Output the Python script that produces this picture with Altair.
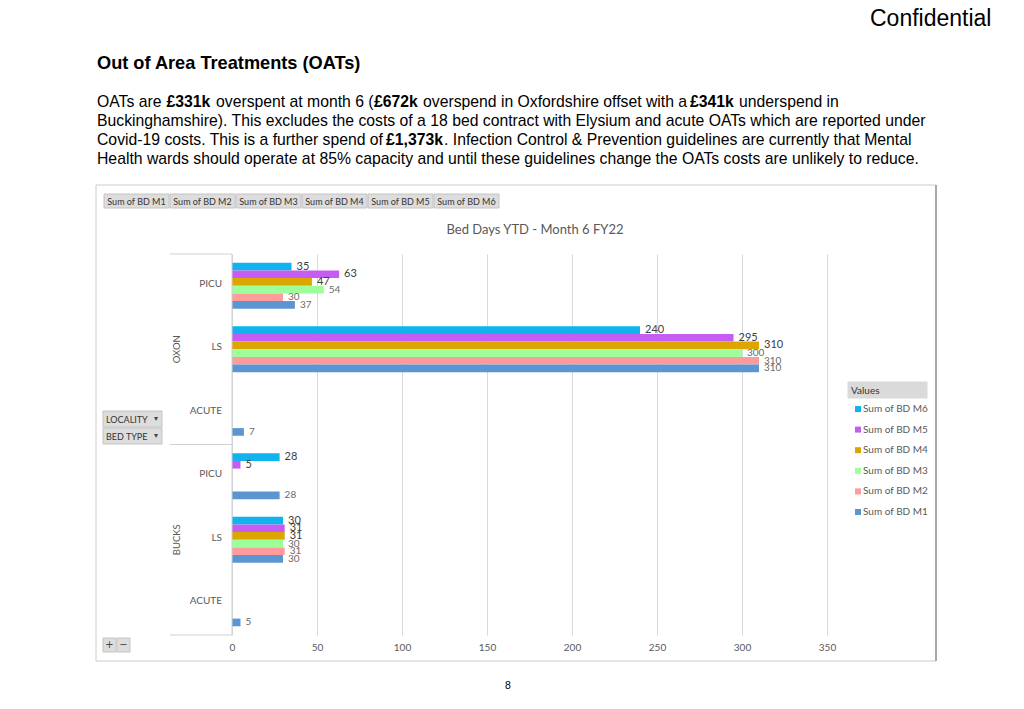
import altair as alt
import pandas as pd

# ---------------- data ----------------
localities = ["OXON", "BUCKS"]
bed_types = ["PICU", "LS", "ACUTE"]
series_names = ["Sum of BD M6", "Sum of BD M5", "Sum of BD M4",
                "Sum of BD M3", "Sum of BD M2", "Sum of BD M1"]
# order: OXON PICU, OXON LS, OXON ACUTE, BUCKS PICU, BUCKS LS, BUCKS ACUTE
bd_m6 = [35, 240, None, 28, 30, None]
bd_m5 = [63, 295, None, 5, 31, None]
bd_m4 = [47, 310, None, None, 31, None]
bd_m3 = [54, 300, None, None, 30, None]
bd_m2 = [30, 310, None, None, 31, None]
bd_m1 = [37, 310, 7, 28, 30, 5]
x_ticks = [0, 50, 100, 150, 200, 250, 300, 350]
button_labels = ["Sum of BD M1", "Sum of BD M2", "Sum of BD M3",
                 "Sum of BD M4", "Sum of BD M5", "Sum of BD M6"]
series_colors = ["#0FB4EE", "#C65DF2", "#DDA500", "#9CFF9C", "#FF9B9B", "#5B96D3"]

chart_title = "Bed Days YTD - Month 6 FY22"
doc_title = "Out of Area Treatments (OATs)"
para_line2 = ("Buckinghamshire). This excludes the costs of a 18 bed contract with Elysium "
              "and acute OATs which are reported under")
para_line4 = ("Health wards should operate at 85% capacity and until these guidelines change "
              "the OATs costs are unlikely to reduce.")

# ---------------- tables ----------------
cats = [f"{l}|{b}" for l in localities for b in bed_types]
series_vals = [bd_m6, bd_m5, bd_m4, bd_m3, bd_m2, bd_m1]
rows = []
for s, vals in zip(series_names, series_vals):
    for c, v in zip(cats, vals):
        if v is not None:
            rows.append({"cat": c, "series": s, "value": v})
df = pd.DataFrame(rows)
df_cat = pd.DataFrame([{"cat": f"{l}|{b}", "bed": b} for l in localities for b in bed_types])
df_loc = pd.DataFrame([{"cat": f"{l}|LS", "loc": l} for l in localities])

# ---------------- geometry ----------------
W, H = 595, 381
OX, OY = 232, 254          # page position of plot origin


def px(x):
    return x - OX


def py(y):
    return y - OY


one = pd.DataFrame({"t": [""]})
CH_FONT = "Lato"
DOC_FONT = "Liberation Sans"

y_enc = alt.Y("cat:N", scale=alt.Scale(domain=cats, paddingInner=0.275, paddingOuter=0.1375), axis=None)
x_scale = alt.Scale(domain=[0, 350], nice=False)
yoff = alt.YOffset("series:N", scale=alt.Scale(domain=series_names, paddingInner=0, paddingOuter=0))


def text_layer(t, x, y, size, color="#000000", weight="normal", font=DOC_FONT,
               align="left", baseline="alphabetic", angle=0):
    props = dict(fontSize=size, color=color, fontWeight=weight, font=font,
                 align=align, baseline=baseline)
    if angle:
        props["angle"] = angle
    return alt.Chart(pd.DataFrame({"t": [t]})).mark_text(**props).encode(
        text="t:N", x=alt.value(px(x)), y=alt.value(py(y)))


def rect_layer(x1, x2, y1, y2, fill="#DDDDDD", stroke="#C4C4C4", fill_opacity=1.0, sw=1):
    return alt.Chart(one).mark_rect(fill=fill, fillOpacity=fill_opacity, stroke=stroke,
                                    strokeWidth=sw).encode(
        x=alt.value(px(x1)), x2=alt.value(px(x2)), y=alt.value(py(y1)), y2=alt.value(py(y2)))


def hrule(x1, x2, y, color="#D0D0D0", sw=1):
    return alt.Chart(one).mark_rule(color=color, strokeWidth=sw).encode(
        x=alt.value(px(x1)), x2=alt.value(px(x2)), y=alt.value(py(y)))


def vrule(x, y1, y2, color="#D0D0D0", sw=1):
    return alt.Chart(one).mark_rule(color=color, strokeWidth=sw).encode(
        x=alt.value(px(x)), y=alt.value(py(y1)), y2=alt.value(py(y2)))


layers = []

# chart frame
layers.append(rect_layer(96, 936, 185, 661, fill="#FFFFFF", stroke="#CCCCCC", fill_opacity=0))
layers.append(vrule(936, 185, 661, color="#A8A8A8", sw=2))

# bars
bars = alt.Chart(df).mark_bar().encode(
    x=alt.X("value:Q", scale=x_scale,
            axis=alt.Axis(values=x_ticks, grid=True, gridColor="#D9D9D9", domain=False, ticks=False,
                          labelFont=CH_FONT, labelFontSize=10, labelColor="#595959", labelFlush=False,
                          labelPadding=7, title=None, format="d")),
    y=y_enc,
    yOffset=yoff,
    color=alt.Color("series:N", scale=alt.Scale(domain=series_names, range=series_colors),
                    legend=alt.Legend(title=None, orient="none", legendX=621, legendY=150,
                                      symbolType="square", symbolSize=36, symbolStrokeWidth=0,
                                      labelFont=CH_FONT, labelFontSize=10, labelColor="#595959",
                                      rowPadding=10.6, labelOffset=0)),
)
layers.append(bars)

# data labels
lab_dark = alt.Chart(df).transform_filter(
    alt.FieldOneOfPredicate(field="series", oneOf=series_names[:3])
).mark_text(align="left", baseline="middle", dx=5, font=CH_FONT, fontSize=11, color="#404040").encode(
    x=alt.X("value:Q", scale=x_scale), y=y_enc, yOffset=yoff, text="value:Q")
lab_light = alt.Chart(df).transform_filter(
    alt.FieldOneOfPredicate(field="series", oneOf=series_names[3:])
).mark_text(align="left", baseline="middle", dx=5, font=CH_FONT, fontSize=10, color="#6A6A6A").encode(
    x=alt.X("value:Q", scale=x_scale), y=y_enc, yOffset=yoff, text="value:Q")
layers += [lab_dark, lab_light]

# category axis structure
layers.append(vrule(232, 254, 635))
layers.append(hrule(170, 232, 254))
layers.append(hrule(170, 232, 254 + H / 2))
layers.append(hrule(170, 232, 635))
layers.append(alt.Chart(df_cat).mark_text(align="right", baseline="middle", dy=-2, font=CH_FONT,
                                          fontSize=10, color="#595959").encode(
    y=y_enc, x=alt.value(px(222)), text="bed:N"))
layers.append(alt.Chart(df_loc).mark_text(align="center", baseline="middle", angle=270, font=CH_FONT,
                                          fontSize=9.5, color="#595959").encode(
    y=y_enc, x=alt.value(px(177)), text="loc:N"))

# chart title
layers.append(text_layer(chart_title, 535, 230, 13, color="#595959", font=CH_FONT,
                         align="center", baseline="middle"))

# field buttons
for i, lab in enumerate(button_labels):
    x1 = 104 + 66 * i
    layers.append(rect_layer(x1, x1 + 65, 194, 208))
    layers.append(text_layer(lab, x1 + 32.5, 201.5, 9, color="#333333", font=CH_FONT,
                             align="center", baseline="middle"))

# locality / bed type buttons
for lab, y1 in [("LOCALITY", 411), ("BED TYPE", 428)]:
    layers.append(rect_layer(103, 162, y1, y1 + 16))
    layers.append(text_layer(lab, 106, y1 + 8.5, 9, color="#333333", font=CH_FONT, baseline="middle"))
    layers.append(text_layer("▾", 156, y1 + 8, 8, color="#444444", font="DejaVu Sans",
                             align="center", baseline="middle"))

# +/- buttons
layers.append(rect_layer(103, 116, 638, 652))
layers.append(rect_layer(117, 130, 638, 652))
layers.append(text_layer("+", 109.5, 645, 10, color="#444444", font="DejaVu Sans", align="center", baseline="middle"))
layers.append(text_layer("−", 123.5, 645, 10, color="#444444", font="DejaVu Sans", align="center", baseline="middle"))

# legend header
layers.append(rect_layer(848, 927, 382, 398, fill="#DADADA", stroke="#DADADA"))
layers.append(text_layer("Values", 851, 390.5, 10, color="#333333", font=CH_FONT, baseline="middle"))

# document text
layers.append(text_layer("Confidential", 870, 25.5, 23))
layers.append(text_layer(doc_title, 97, 68.5, 18.2, weight="bold"))
FS = 15.75
line1 = [("OATs are", 97, "normal"), ("£331k", 166.5, "bold"), ("overspent at month 6 (", 216, "normal"),
         ("£672k", 374, "bold"), ("overspend in Oxfordshire offset with a", 423, "normal"),
         ("£341k", 690, "bold"), ("underspend in", 739, "normal")]
for t, x, w in line1:
    layers.append(text_layer(t, x, 106.5, FS, weight=w))
layers.append(text_layer(para_line2, 97, 125.5, FS))
line3 = [("Covid-19 costs. This is a further spend of", 97, "normal"), ("£1,373k", 386, "bold"),
         (". Infection Control & Prevention guidelines are currently that Mental", 444, "normal")]
for t, x, w in line3:
    layers.append(text_layer(t, x, 144.5, FS, weight=w))
layers.append(text_layer(para_line4, 97, 163.5, FS))

# page number
layers.append(text_layer("8", 508, 689, 10.5, align="center"))

chart = alt.layer(*layers).properties(
    width=W, height=H,
    autosize=alt.AutoSizeParams(type="none"),
    padding={"left": OX - 8, "top": OY - 8, "right": 1008 - (OX - 8) - W, "bottom": 693 - (OY - 8) - H},
    background="#FFFFFF",
).configure_view(stroke=None)

chart.save("out.html", embed_options={"renderer": "svg", "actions": False})
